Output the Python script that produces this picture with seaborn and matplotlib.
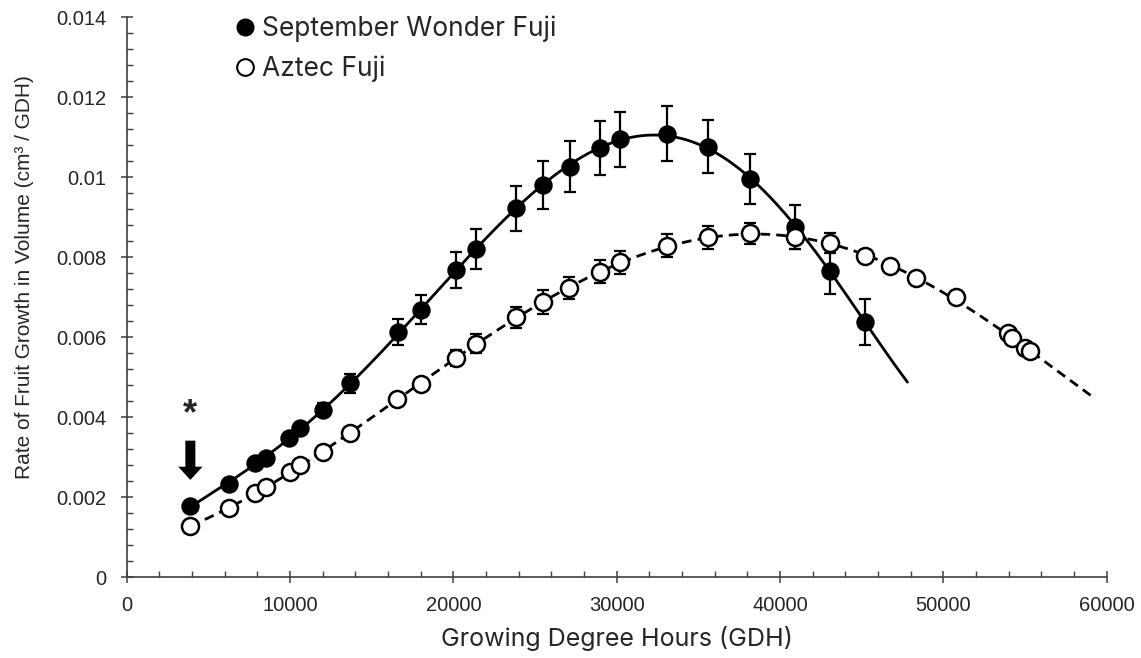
import numpy as np
import pandas as pd
import matplotlib
matplotlib.use("Agg")
import matplotlib.pyplot as plt
from matplotlib.lines import Line2D
from matplotlib.ticker import MultipleLocator, FuncFormatter
import seaborn as sns

# ---- data -------------------------------------------------------------
sw_gdh = [3900, 6280, 7850, 8530, 9960, 10610, 12050, 13680, 16600, 18020,
          20180, 21390, 23850, 25480, 27120, 28970, 30180, 33070, 35560,
          38160, 40930, 43030, 45230]
sw_rate = [0.00178, 0.00233, 0.00284, 0.00297, 0.00347, 0.00373, 0.00418,
           0.00484, 0.00612, 0.00668, 0.00768, 0.00820, 0.00922, 0.00980,
           0.01026, 0.01073, 0.01094, 0.01108, 0.01076, 0.00995, 0.00875,
           0.00766, 0.00637]
sw_se = [0.00005, 0.00008, 0.00010, 0.00010, 0.00012, 0.00013, 0.00016,
         0.00023, 0.00033, 0.00036, 0.00045, 0.00049, 0.00056, 0.00060,
         0.00064, 0.00067, 0.00068, 0.00069, 0.00066, 0.00063, 0.00056,
         0.00059, 0.00058]

az_gdh = [3900, 6280, 7850, 8530, 10000, 10610, 12050, 13680, 16570, 18000,
          20180, 21390, 23850, 25480, 27100, 28970, 30180, 33070, 35560,
          38160, 40930, 43030, 45170, 46750, 48340, 50760, 53970, 54170,
          54990, 55290]
az_rate = [0.00128, 0.00172, 0.00209, 0.00224, 0.00263, 0.00280, 0.00313,
           0.00361, 0.00446, 0.00482, 0.00547, 0.00583, 0.00649, 0.00687,
           0.00722, 0.00763, 0.00787, 0.00828, 0.00849, 0.00859, 0.00849,
           0.00834, 0.00803, 0.00778, 0.00747, 0.00699, 0.00609, 0.00597,
           0.00572, 0.00566]
az_se = [0.00003, 0.00004, 0.00005, 0.00005, 0.00006, 0.00007, 0.00008,
         0.00010, 0.00012, 0.00014, 0.00020, 0.00024, 0.00027, 0.00030,
         0.00028, 0.00029, 0.00029, 0.00029, 0.00028, 0.00026, 0.00030,
         0.00025, 0.00015, 0.00012, 0.00010, 0.00010, 0.00010, 0.00010,
         0.00010, 0.00010]

series_names = ["September Wonder Fuji", "Aztec Fuji"]
trend_order = 5
sw_trend_end = 47800
az_trend_end = 59300

# ---- style ------------------------------------------------------------
sns.set_style("white")
tick_font = ["Liberation Sans", "DejaVu Sans"]
title_font = ["Inter", "DejaVu Sans"]
plt.rcParams["font.family"] = tick_font
axis_color = "#404040"

fig = plt.figure(figsize=(11.41, 6.58), dpi=100)
ax = fig.add_axes([0.111, 0.123, 0.859, 0.851])


def trend(x, y, end, order=trend_order):
    """Polynomial trendline through the measured points (x in thousands)."""
    xk = np.asarray(x) / 1000.0
    coef = np.polyfit(xk, y, order)
    xs = np.linspace(min(x), end, 300)
    return pd.DataFrame({"gdh": xs, "rate": np.polyval(coef, xs / 1000.0)})


sw_fit = trend(sw_gdh, sw_rate, sw_trend_end)
az_fit = trend(az_gdh, az_rate, az_trend_end)

sns.lineplot(data=sw_fit, x="gdh", y="rate", ax=ax, color="black",
             linewidth=2.0, zorder=2)
sns.lineplot(data=az_fit, x="gdh", y="rate", ax=ax, color="black",
             linewidth=2.0, zorder=2)
ax.lines[-1].set_linestyle((0, (3.5, 2.2)))

# September Wonder Fuji: filled circles with standard error bars
ax.errorbar(sw_gdh, sw_rate, yerr=sw_se, fmt="none", ecolor="black",
            elinewidth=1.6, capsize=4, capthick=1.6, zorder=3)
sns.scatterplot(x=sw_gdh, y=sw_rate, ax=ax, s=150, color="black",
                edgecolor="black", linewidth=1.0, zorder=4)

# Aztec Fuji: open circles with standard error bars
ax.errorbar(az_gdh, az_rate, yerr=az_se, fmt="none", ecolor="black",
            elinewidth=1.6, capsize=4, capthick=1.6, zorder=5)
sns.scatterplot(x=az_gdh, y=az_rate, ax=ax, s=150, color="white",
                edgecolor="black", linewidth=1.8, zorder=6)

# first sampling date marker
ax.annotate("", xy=(sw_gdh[0], 0.00236), xytext=(sw_gdh[0], 0.00348),
            arrowprops=dict(arrowstyle="simple,head_length=0.95,head_width=1.75,tail_width=0.72",
                            mutation_scale=10, color="black", lw=0),
            zorder=7)
ax.text(sw_gdh[0], 0.00405, "*", ha="center", va="center", fontsize=26,
        fontweight="bold", family=tick_font)

# ---- axes -------------------------------------------------------------
ax.set_xlim(0, 60000)
ax.set_ylim(0, 0.014)
ax.xaxis.set_major_locator(MultipleLocator(10000))
ax.xaxis.set_minor_locator(MultipleLocator(2000))
ax.yaxis.set_major_locator(MultipleLocator(0.002))
ax.yaxis.set_minor_locator(MultipleLocator(0.0004))
ax.yaxis.set_major_formatter(FuncFormatter(lambda v, p: f"{v:.3f}".rstrip("0").rstrip(".") if v else "0"))
ax.xaxis.set_major_formatter(FuncFormatter(lambda v, p: f"{v:.0f}"))

for side in ["top", "right"]:
    ax.spines[side].set_visible(False)
for side in ["left", "bottom"]:
    ax.spines[side].set_color(axis_color)
    ax.spines[side].set_linewidth(1.2)

ax.tick_params(which="major", direction="inout", length=9, width=1.1,
               color=axis_color, labelsize=14.5, labelcolor="#262626")
ax.tick_params(which="minor", direction="in", length=4.5, width=1.0,
               color=axis_color)
ax.tick_params(axis="y", which="major", pad=10)
ax.tick_params(axis="x", which="major", pad=9)
ax.tick_params(left=True, bottom=True)
ax.tick_params(axis="y", which="minor", left=True)
ax.tick_params(axis="x", which="minor", bottom=True)

ax.set_xlabel("Growing Degree Hours (GDH)", fontsize=18, color="#262626",
              family=title_font)
ax.xaxis.label.set_verticalalignment("center")
ax.xaxis.set_label_coords(0.5, -0.109)
ax.set_ylabel("Rate of Fruit Growth in Volume (cm³ / GDH)", fontsize=15,
              color="#262626", family=tick_font)
ax.yaxis.set_label_coords(-0.095, 0.535)

handles = [
    Line2D([], [], marker="o", linestyle="none", markersize=12,
           markerfacecolor="black", markeredgecolor="black"),
    Line2D([], [], marker="o", linestyle="none", markersize=12,
           markerfacecolor="white", markeredgecolor="black",
           markeredgewidth=1.5),
]
leg = ax.legend(handles, series_names, loc="upper left",
                bbox_to_anchor=(0.08, 1.045), frameon=False,
                handletextpad=0.05, labelspacing=0.5, handlelength=1.2,
                prop={"family": title_font, "size": 19})
for t in leg.get_texts():
    t.set_color("#262626")

fig.savefig("out.png", dpi=100)
